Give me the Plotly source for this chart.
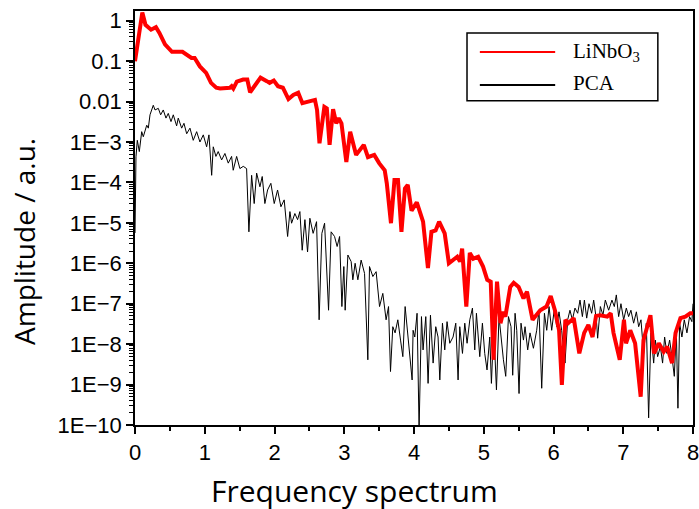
import plotly.graph_objects as go

# ---- LiNbO3 spectrum (red) ----
linbo3_freq = [0.00, 0.105, 0.15, 0.23, 0.30, 0.35, 0.43, 0.53, 0.68, 0.74, 0.81, 0.855, 0.93, 1.02,
               1.09, 1.165, 1.22, 1.36, 1.385, 1.41, 1.46, 1.55, 1.61, 1.65, 1.72, 1.80, 1.89, 1.93,
               1.99, 2.05, 2.12, 2.20, 2.27, 2.34, 2.40, 2.51, 2.58, 2.61, 2.645, 2.715, 2.75, 2.79,
               2.84, 2.885, 2.92, 2.96, 3.03, 3.085, 3.17, 3.28, 3.34, 3.43, 3.50, 3.58, 3.61, 3.67,
               3.72, 3.77, 3.82, 3.87, 3.91, 3.965, 4.04, 4.13, 4.20, 4.25, 4.31, 4.36, 4.44, 4.50,
               4.57, 4.62, 4.66, 4.69, 4.75, 4.80, 4.85, 4.92, 4.99, 5.05, 5.10, 5.14, 5.19, 5.24,
               5.28, 5.31, 5.38, 5.43, 5.50, 5.57, 5.62, 5.70, 5.81, 5.90, 5.96, 6.02, 6.08, 6.12,
               6.17, 6.21, 6.29, 6.37, 6.44, 6.50, 6.56, 6.61, 6.67, 6.77, 6.82, 6.86, 6.95, 7.01,
               7.04, 7.10, 7.17, 7.25, 7.29, 7.34, 7.39, 7.44, 7.51, 7.58, 7.63, 7.70, 7.75, 7.82,
               7.89, 7.96, 8.00]
linbo3_amp = [1.0e-1, 1.6, 0.79, 0.60, 0.69, 0.50, 0.26, 0.17, 0.17, 0.145, 0.12, 0.12, 0.074, 0.051,
              0.029, 0.022, 0.021, 0.022, 0.024, 0.021, 0.031, 0.035, 0.035, 0.017, 0.024, 0.039, 0.032, 0.029,
              0.033, 0.024, 0.022, 0.0115, 0.0145, 0.0166, 0.0091, 0.0105, 0.011, 0.0062, 9.3e-4, 0.0074, 0.0068, 8.5e-4,
              0.0065, 0.0029, 0.0039, 0.0029, 3.2e-4, 0.0018, 4.8e-4, 8.5e-4, 4.2e-4, 4.8e-4, 3.0e-4, 2.0e-4, 9.5e-5, 9.8e-6,
              1.15e-4, 1.15e-4, 6.0e-6, 7.1e-5, 8.7e-5, 2.0e-5, 3.2e-5, 1.07e-5, 7.6e-7, 6.0e-6, 6.5e-6, 1.07e-5, 5.5e-6, 1.0e-6,
              1.2e-6, 1.45e-6, 1.1e-6, 2.3e-6, 8.5e-8, 1.8e-6, 1.3e-6, 1.45e-6, 8.3e-7, 3.9e-7, 3.5e-7, 4.1e-9, 3.5e-7, 3.3e-8,
              6.3e-8, 4.8e-8, 2.6e-7, 3.3e-7, 2.6e-7, 1.35e-7, 2.0e-7, 4.0e-8, 6.9e-8, 8.5e-8, 1.55e-7, 6.9e-8, 2.2e-8, 9.8e-10,
              4.0e-8, 3.3e-8, 4.4e-8, 5.9e-9, 1.9e-8, 3.0e-8, 1.5e-8, 5.0e-8, 5.2e-8, 4.8e-8, 5.8e-8, 1.9e-8, 4.1e-9, 4.0e-8,
              1.05e-8, 2.2e-8, 1.05e-8, 5.0e-10, 1.26e-8, 2.7e-8, 5.2e-8, 5.9e-9, 1.05e-8, 6.5e-9, 8.7e-9, 3.4e-9, 1.9e-8, 4.4e-8,
              4.8e-8, 5.8e-8, 5.8e-8]

# ---- PCA spectrum (black) ----
pca_freq = [0.0, 0.014, 0.033, 0.062, 0.096, 0.119, 0.168, 0.191, 0.215, 0.262, 0.287, 0.334, 0.368, 0.405,
            0.444, 0.477, 0.516, 0.549, 0.597, 0.620, 0.669, 0.702, 0.741, 0.788, 0.835, 0.884, 0.931, 0.979,
            1.027, 1.06, 1.099, 1.122, 1.16, 1.193, 1.242, 1.289, 1.337, 1.385, 1.408, 1.457, 1.504, 1.552,
            1.60, 1.633, 1.672, 1.709, 1.744, 1.791, 1.824, 1.862, 1.901, 1.948, 1.996, 2.044, 2.092, 2.139,
            2.188, 2.221, 2.245, 2.292, 2.331, 2.364, 2.397, 2.436, 2.474, 2.507, 2.554, 2.603, 2.640, 2.679,
            2.718, 2.775, 2.812, 2.861, 2.898, 2.933, 2.966, 2.994, 3.013, 3.052, 3.099, 3.123, 3.156, 3.195,
            3.242, 3.291, 3.338, 3.362, 3.410, 3.457, 3.506, 3.553, 3.60, 3.635, 3.663, 3.696, 3.729, 3.768,
            3.807, 3.840, 3.873, 3.911, 3.950, 3.973, 3.987, 4.011, 4.044, 4.073, 4.107, 4.13, 4.169, 4.202,
            4.236, 4.274, 4.312, 4.345, 4.370, 4.408, 4.441, 4.474, 4.513, 4.56, 4.599, 4.632, 4.656, 4.695,
            4.728, 4.761, 4.80, 4.838, 4.871, 4.895, 4.943, 4.981, 5.014, 5.047, 5.086, 5.11, 5.143, 5.182,
            5.219, 5.254, 5.282, 5.315, 5.354, 5.391, 5.415, 5.449, 5.473, 5.506, 5.534, 5.569, 5.592, 5.63,
            5.663, 5.712, 5.759, 5.792, 5.831, 5.87, 5.903, 5.936, 5.974, 6.013, 6.046, 6.079, 6.117, 6.165,
            6.203, 6.236, 6.271, 6.308, 6.347, 6.38, 6.414, 6.443, 6.476, 6.509, 6.547, 6.576, 6.615, 6.633,
            6.672, 6.709, 6.743, 6.791, 6.838, 6.872, 6.901, 6.934, 6.967, 7.006, 7.044, 7.077, 7.11, 7.149,
            7.188, 7.221, 7.254, 7.292, 7.331, 7.364, 7.397, 7.436, 7.46, 7.493, 7.532, 7.564, 7.593, 7.626,
            7.665, 7.698, 7.732, 7.761, 7.784, 7.808, 7.841, 7.875, 7.913, 7.951, 7.984, 8.0]
pca_amp = [5.6e-6, 4.3e-4, 1.1e-3, 5.8e-4, 1.8e-3, 1.35e-3, 2.6e-3, 2.2e-3, 4.7e-3, 8.1e-3, 6.2e-3, 6.8e-3, 4.7e-3, 6.2e-3,
           3.9e-3, 5.1e-3, 3.2e-3, 4.7e-3, 2.5e-3, 3.9e-3, 2.2e-3, 2.9e-3, 1.6e-3, 2.2e-3, 1.1e-3, 1.8e-3, 1.0e-3, 1.5e-3,
           7.6e-4, 1.5e-3, 1.5e-4, 7.6e-4, 4.4e-4, 5.8e-4, 3.6e-4, 5.2e-4, 3.0e-4, 4.4e-4, 2.0e-4, 4.4e-4, 2.2e-4, 2.5e-4,
           2.2e-4, 6.0e-6, 1.5e-4, 3.0e-5, 1.7e-4, 7.8e-5, 1.4e-4, 3.0e-5, 6.5e-5, 9.5e-5, 3.0e-5, 6.5e-5, 2.5e-5, 3.7e-5,
           4.6e-6, 1.9e-5, 9.8e-6, 1.7e-5, 1.2e-5, 1.9e-5, 2.1e-6, 1.2e-5, 1.9e-6, 1.3e-5, 5.5e-6, 1.07e-5, 4.0e-8, 5.5e-6,
           9.8e-6, 6.9e-8, 6.0e-6, 4.6e-6, 2.6e-6, 4.6e-6, 8.5e-8, 8.3e-7, 6.9e-8, 1.6e-6, 1.1e-6, 3.9e-7, 1.0e-6, 3.9e-7,
           1.2e-6, 5.6e-7, 4.1e-9, 8.3e-7, 4.7e-7, 6.2e-7, 8.5e-8, 1.8e-7, 4.0e-8, 8.5e-8, 2.1e-9, 2.7e-8, 1.9e-8, 4.0e-8,
           1.26e-8, 4.9e-9, 8.5e-8, 1.9e-8, 4.1e-9, 1.3e-9, 2.2e-8, 1.5e-8, 5.8e-8, 8.0e-11, 4.8e-8, 7.2e-9, 4.8e-8, 1.07e-9,
           5.2e-8, 3.4e-9, 2.7e-8, 1.5e-8, 1.3e-9, 3.3e-8, 7.2e-9, 3.6e-8, 1.05e-8, 1.5e-8, 3.3e-8, 1.3e-9, 2.7e-8, 5.9e-9,
           3.3e-8, 1.05e-8, 4.0e-8, 7.8e-8, 7.2e-9, 5.8e-8, 4.9e-9, 3.3e-8, 5.9e-9, 2.3e-9, 1.5e-8, 1.07e-9, 2.7e-8, 7.4e-10,
           4.8e-8, 1.05e-8, 4.1e-9, 1.6e-9, 4.8e-8, 2.7e-8, 1.7e-9, 5.8e-8, 2.2e-8, 6.0e-10, 3.3e-8, 1.26e-8, 2.7e-8, 7.2e-9,
           1.9e-8, 7.9e-9, 2.2e-8, 6.9e-8, 8.1e-10, 5.8e-8, 2.2e-8, 8.5e-8, 2.2e-8, 7.8e-8, 2.7e-8, 6.3e-8, 2.2e-8, 3.4e-9,
           4.0e-8, 6.9e-8, 4.0e-8, 7.8e-8, 5.8e-8, 1.23e-7, 4.8e-8, 1.23e-7, 4.4e-8, 1.0e-7, 5.8e-8, 1.23e-7, 4.0e-8, 1.4e-8,
           8.5e-8, 5.2e-8, 1.23e-7, 6.9e-8, 1.23e-7, 8.5e-8, 1.65e-7, 4.8e-8, 1.0e-7, 4.0e-8, 7.8e-8, 4.8e-8, 6.9e-8, 3.3e-8,
           6.3e-8, 2.7e-8, 4.0e-8, 5.9e-9, 3.3e-8, 1.5e-10, 1.9e-8, 3.4e-9, 1.26e-8, 4.9e-9, 8.7e-9, 3.4e-9, 1.5e-8, 5.9e-9,
           1.26e-8, 4.9e-9, 1.6e-9, 2.2e-8, 2.6e-10, 3.3e-8, 1.5e-8, 4.0e-8, 1.9e-8, 4.8e-8, 3.6e-8, 1.0e-7]

# ---- axis ticks ----
x_ticks = [0, 1, 2, 3, 4, 5, 6, 7, 8]
y_tick_vals = [1, 0.1, 0.01, 1e-3, 1e-4, 1e-5, 1e-6, 1e-7, 1e-8, 1e-9, 1e-10]
y_tick_text = ["1", "0.1", "0.01", "1E\u22123", "1E\u22124", "1E\u22125", "1E\u22126",
               "1E\u22127", "1E\u22128", "1E\u22129", "1E\u221210"]
y_minor_vals = [m * 10.0 ** e for e in range(-10, 1) for m in range(2, 10)]

fig = go.Figure()
fig.add_trace(go.Scatter(x=pca_freq, y=pca_amp, mode="lines", name="PCA",
                         line=dict(color="black", width=1), showlegend=False))
fig.add_trace(go.Scatter(x=linbo3_freq, y=linbo3_amp, mode="lines", name="LiNbO<sub>3</sub>",
                         line=dict(color="#ff0000", width=4), showlegend=False))

tickfont = dict(family="Liberation Sans, Arial, sans-serif", size=22, color="black")
fig.update_xaxes(range=[0, 8], tickvals=x_ticks, ticks="outside", ticklen=7, tickwidth=1.5,
                 tickcolor="black", showline=True, linecolor="black", linewidth=1.5, mirror=True,
                 showgrid=False, zeroline=False, tickfont=tickfont, automargin=False,
                 ticklabeloverflow="allow",
                 minor=dict(dtick=0.5, ticks="outside", ticklen=4, tickwidth=1.5, tickcolor="black", showgrid=False))
fig.update_yaxes(type="log", range=[-10, 0.24], tickmode="array", tickvals=y_tick_vals, ticktext=y_tick_text,
                 ticks="outside", ticklen=7, tickwidth=1.5, tickcolor="black",
                 showline=True, linecolor="black", linewidth=1.5, mirror=True,
                 showgrid=False, zeroline=False, tickfont=tickfont, automargin=False,
                 ticklabeloverflow="allow",
                 minor=dict(tickvals=y_minor_vals, ticks="outside", ticklen=4, tickwidth=1, tickcolor="black", showgrid=False))

fig.add_annotation(xref="paper", yref="paper", x=(354 - 135) / 558, y=(425 - 490) / 414,
                   text="Frequency spectrum", showarrow=False, xanchor="center", yanchor="middle",
                   font=dict(family="Open Sans, sans-serif", size=30, color="black"))
fig.add_annotation(xref="paper", yref="paper", x=(24 - 135) / 558, y=(425 - 242) / 414,
                   text="Amplitude / a.u.", showarrow=False, xanchor="center", yanchor="middle",
                   textangle=-90, font=dict(family="Open Sans, sans-serif", size=28, color="black"))

# legend box drawn manually (paper coordinates)
legend_font = dict(family="Liberation Serif, Times New Roman, serif", size=21, color="black")
fig.add_shape(type="rect", xref="paper", yref="paper", x0=0.595, x1=0.937, y0=0.783, y1=0.947,
              line=dict(color="black", width=1.5), fillcolor="white")
fig.add_shape(type="line", xref="paper", yref="paper", x0=0.618, x1=0.753, y0=0.901, y1=0.901,
              line=dict(color="#ff0000", width=2))
fig.add_shape(type="line", xref="paper", yref="paper", x0=0.618, x1=0.753, y0=0.821, y1=0.821,
              line=dict(color="black", width=2))
fig.add_annotation(xref="paper", yref="paper", x=0.781, y=0.901, text="LiNbO<sub>3</sub>",
                   showarrow=False, xanchor="left", yanchor="middle", font=legend_font)
fig.add_annotation(xref="paper", yref="paper", x=0.781, y=0.826, text="PCA",
                   showarrow=False, xanchor="left", yanchor="middle", font=legend_font)

fig.update_layout(width=699, height=509, margin=dict(l=135, r=6, t=11, b=84),
                  paper_bgcolor="white", plot_bgcolor="white", showlegend=False)

# remove the browser's default 8px body margin so the figure fills the window exactly
fig.write_html("out.html", config={"displayModeBar": False},
               post_script="document.body.style.margin='0';document.body.style.overflow='hidden';")
